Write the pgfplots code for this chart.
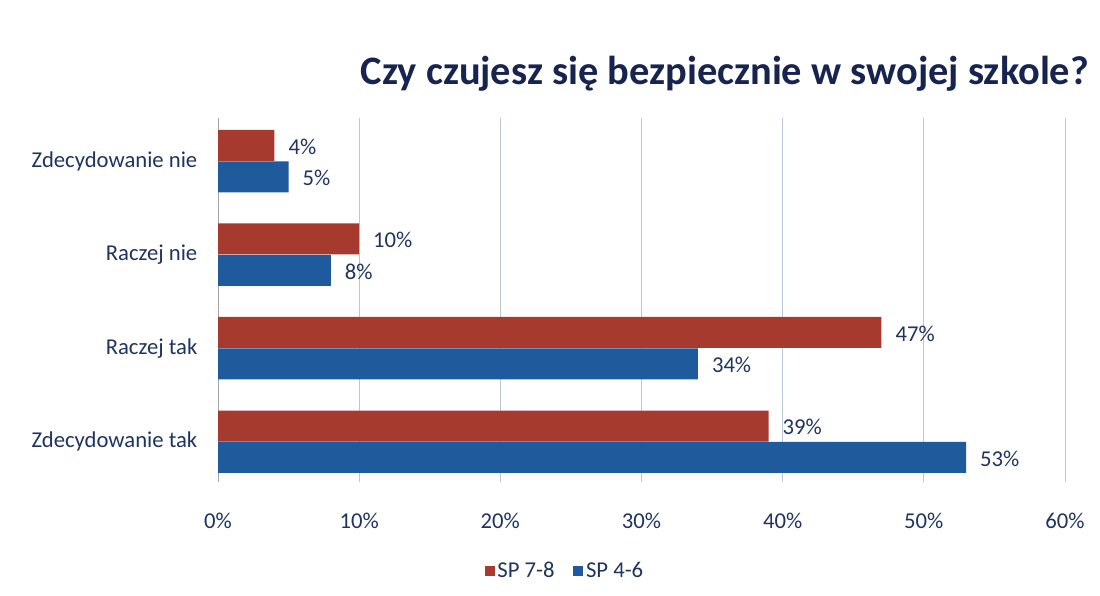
\documentclass[border=0pt]{standalone}
\usepackage{pgfplots}
\pgfplotsset{compat=1.18}
\usepackage{fontspec}
\setmainfont{Carlito}
\definecolor{cred}{HTML}{A63A2F}
\definecolor{cblue}{HTML}{1F5B9C}
\definecolor{ctext}{HTML}{1F3460}
\definecolor{ctitle}{HTML}{16244F}
\definecolor{cgrid}{HTML}{B9C7DA}
\begin{document}
\begin{tikzpicture}
\useasboundingbox (0pt,0pt) rectangle (825pt,447pt);
\begin{axis}[
  at={(163.5pt,85.5pt)}, anchor=south west,
  scale only axis, width=635.25pt, height=273pt,
  xmin=0, xmax=60, ymin=-0.43, ymax=3.46,
  xtick={0,10,...,60},
  xticklabel={\pgfmathprintnumber{\tick}\%},
  /pgf/number format/assume math mode=true,
  ytick={0,1,2,3},
  yticklabels={Zdecydowanie tak,Raczej tak,Raczej nie,Zdecydowanie nie},
  xmajorgrids, grid style={cgrid, line width=0.6pt},
  axis lines*=left,
  x axis line style={draw=none},
  y axis line style={draw=gray!70, line width=0.6pt},
  major tick length=0pt,
  tick label style={font=\fontsize{17}{20}\selectfont, text=ctext},
  xticklabel style={yshift=-20pt},
  yticklabel style={xshift=-12pt},
  xbar, bar width=23.25pt,
  nodes near coords={\pgfmathprintnumber{\pgfplotspointmeta}\%},
  nodes near coords style={font=\fontsize{17}{20}\selectfont, text=ctext, xshift=7pt, yshift=-1pt},
  clip=false,
  legend style={at={(0.41,-0.245)}, anchor=center, draw=none, legend columns=2,
    font=\fontsize{17}{20}\selectfont, text=ctext,
    /tikz/every even column/.append style={column sep=12pt}},
  legend image code/.code={\fill[#1] (-2pt,-3.8pt) rectangle (5.6pt,3.8pt);},
]
\addplot[fill=cred, draw=none, bar shift=11.8pt] coordinates {(39,0) (47,1) (10,2) (4,3)};
\addlegendentry{SP 7-8}
\addplot[fill=cblue, draw=none, bar shift=-11.8pt] coordinates {(53,0) (34,1) (8,2) (5,3)};
\addlegendentry{SP 4-6}
\end{axis}
\node[anchor=center, font=\fontsize{30.3}{34}\selectfont\bfseries, text=ctitle] at (543.75pt,391.5pt) {Czy czujesz się bezpiecznie w swojej szkole?};
\end{tikzpicture}
\end{document}
